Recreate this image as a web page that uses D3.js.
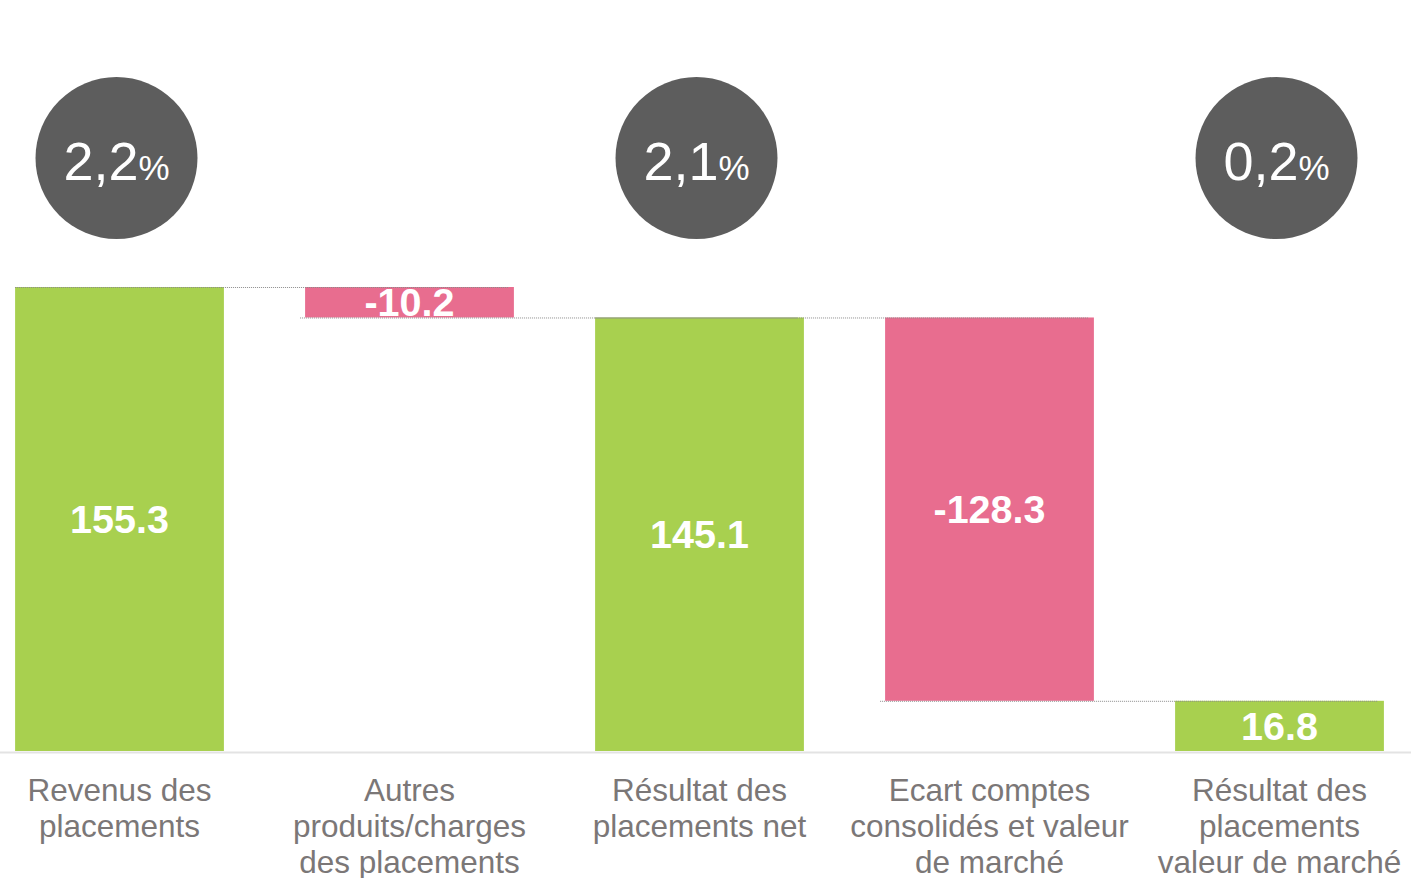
<!DOCTYPE html>
<html>
<head>
<meta charset="utf-8">
<script src="https://cdn.jsdelivr.net/npm/d3@7"></script>
<style>
  html, body { margin: 0; padding: 0; background: #ffffff; }
  svg { display: block; }
</style>
</head>
<body>
<svg id="chart" width="1411" height="878"></svg>
<script>
// ---- Data ----
const categories = [
  "Revenus des placements",
  "Autres produits/charges des placements",
  "Résultat des placements net",
  "Ecart comptes consolidés et valeur de marché",
  "Résultat des placements valeur de marché"
];
const labelLines = [
  ["Revenus des", "placements"],
  ["Autres", "produits/charges", "des placements"],
  ["Résultat des", "placements net"],
  ["Ecart comptes", "consolidés et valeur", "de marché"],
  ["Résultat des", "placements", "valeur de marché"]
];
const values = [155.3, -10.2, 145.1, -128.3, 16.8];
const barTypes = ["total", "delta", "total", "delta", "total"];
const valueLabels = ["155.3", "-10.2", "145.1", "-128.3", "16.8"];
const rateCategories = [0, 2, 4];
const rateValues = ["2,2", "2,1", "0,2"];

// ---- Layout ----
const W = 1411, H = 878;
const baseY = 751, topY = 287;
const svg = d3.select("#chart");

const x = d3.scaleBand()
  .domain(categories)
  .range([-25.5, 1424.5])
  .paddingInner(0.28)
  .paddingOuter(0.14);

const y = d3.scaleLinear().domain([0, 155.3]).range([baseY, topY]);

// Build waterfall segments
let running = 0;
const bars = values.map((v, i) => {
  let y0, y1;
  if (barTypes[i] === "total") { y0 = 0; y1 = v; running = v; }
  else { y0 = running; y1 = running + v; running = y1; }
  return { cat: categories[i], i, v, y0, y1, end: running, label: valueLabels[i] };
});

const green = "#a8d04f", pink = "#e86d8f";

// Baseline
svg.append("line")
  .attr("x1", 0).attr("x2", W)
  .attr("y1", y(0) + 1.5).attr("y2", y(0) + 1.5)
  .attr("stroke", "#e3e3e3").attr("stroke-width", 2);

// Bars
svg.selectAll("rect.bar").data(bars).enter().append("rect")
  .attr("class", "bar")
  .attr("x", d => x(d.cat))
  .attr("width", x.bandwidth())
  .attr("y", d => y(Math.max(d.y0, d.y1)))
  .attr("height", d => Math.abs(y(d.y0) - y(d.y1)))
  .attr("fill", d => d.v >= 0 ? green : pink);

// Connectors (dotted)
const conns = bars.slice(0, -1).map((d, i) => ({
  from: d, to: bars[i + 1], level: d.end
}));
svg.selectAll("line.conn").data(conns).enter().append("line")
  .attr("class", "conn")
  .attr("x1", d => x(d.from.cat) - (d.from.v < 0 ? 5 : 0))
  .attr("x2", d => x(d.to.cat) + x.bandwidth() - 6)
  .attr("y1", d => y(d.level) + 0.5)
  .attr("y2", d => y(d.level) + 0.5)
  .attr("stroke", "#8c8c8c")
  .attr("stroke-width", 1)
  .attr("stroke-dasharray", "1,1");

// Value labels
svg.selectAll("text.val").data(bars).enter().append("text")
  .attr("class", "val")
  .attr("x", d => x(d.cat) + x.bandwidth() / 2)
  .attr("y", d => (y(d.y0) + y(d.y1)) / 2)
  .attr("dy", "0.36em")
  .attr("text-anchor", "middle")
  .attr("fill", "#ffffff")
  .attr("font-family", "Liberation Sans, Arial, sans-serif")
  .attr("font-weight", "bold")
  .attr("font-size", 39.5)
  .text(d => d.label);

// Category labels
const catG = svg.selectAll("text.cat").data(labelLines).enter().append("text")
  .attr("class", "cat")
  .attr("x", (d, i) => x(categories[i]) + x.bandwidth() / 2)
  .attr("y", 801)
  .attr("text-anchor", "middle")
  .attr("fill", "#7b7777")
  .attr("font-family", "Liberation Sans, Arial, sans-serif")
  .attr("font-size", 31.5);
catG.selectAll("tspan").data(d => d).enter().append("tspan")
  .attr("x", function () { return d3.select(this.parentNode).attr("x"); })
  .attr("dy", (d, j) => j === 0 ? 0 : 36)
  .text(d => d);

// Rate circles
const rates = rateCategories.map((ci, k) => ({ cat: categories[ci], rate: rateValues[k] }));
const rg = svg.selectAll("g.rate").data(rates).enter().append("g")
  .attr("class", "rate")
  .attr("transform", d => `translate(${x(d.cat) + x.bandwidth() / 2 - 3},158)`);
rg.append("circle").attr("r", 81).attr("fill", "#5d5d5d");
const rt = rg.append("text")
  .attr("text-anchor", "middle")
  .attr("y", 22)
  .attr("fill", "#ffffff")
  .attr("font-family", "Liberation Sans, Arial, sans-serif");
rt.append("tspan").attr("font-size", 54).text(d => d.rate);
rt.append("tspan").attr("font-size", 35).text("%");
</script>
</body>
</html>
